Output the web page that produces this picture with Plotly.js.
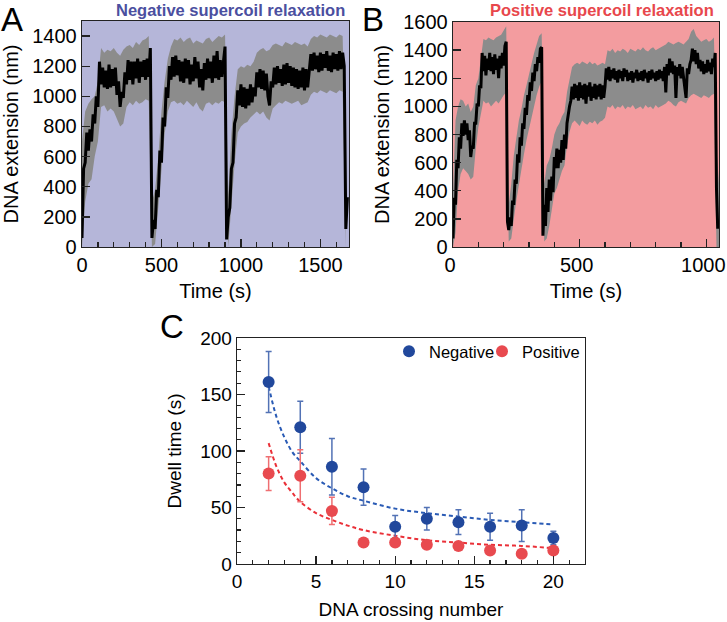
<!DOCTYPE html>
<html><head><meta charset="utf-8">
<script src="https://cdn.plot.ly/plotly-3.0.1.min.js"></script>
<style>html,body{margin:0;padding:0;background:#fff}#chart{width:727px;height:622px}</style>
</head><body><div id="chart"></div>
<script>
// ---------- Panel A: negative supercoil relaxation (time in s, extension in nm) ----------
const aBlackStarts = [0, 440, 910, 1660];   // segment start times, 10 s sampling
const aBlackStep = 10;
const aBlack1 = [60, 520, 560, 760, 640, 780, 700, 880, 820, 1000, 930, 1230, 1080, 1190, 1060, 1170, 1050, 1210, 1060, 1180, 1070, 1190, 1010, 1100, 930, 1030, 990, 1160, 1080, 1240, 1110, 1230, 1080, 1230, 1120, 1250, 1090, 1230, 1130, 1240, 1110, 1250, 1130, 1320];
const aBlack2 = [60, 180, 120, 380, 330, 640, 560, 860, 800, 1060, 990, 1200, 1110, 1260, 1130, 1270, 1140, 1240, 1100, 1230, 1090, 1250, 1120, 1240, 1080, 1210, 1100, 1260, 1120, 1230, 1060, 1180, 1040, 1220, 1110, 1250, 1120, 1230, 1090, 1270, 1120, 1300, 1110, 1240, 1130, 1250, 1330];
const aBlack3 = [50, 200, 260, 520, 560, 820, 860, 1040, 940, 1080, 930, 1060, 920, 1050, 940, 1080, 960, 1060, 1000, 1160, 1060, 1180, 1050, 1170, 1040, 1150, 1000, 940, 1100, 1060, 1190, 1080, 1200, 1090, 1180, 1070, 1210, 1080, 1220, 1090, 1200, 1070, 1190, 1060, 1180, 1050, 1170, 1060, 1190, 1040, 1180, 1060, 1170, 1280, 1170, 1290, 1180, 1270, 1160, 1290, 1170, 1280, 1190, 1300, 1170, 1270, 1160, 1290, 1180, 1280, 1170, 1300, 1180, 1290, 1200];
const aBlack4 = [120, 330];
const aGrayStart = 0, aGrayStep = 20;
const aGrayHi = [700, 900, 950, 980, 1000, 1100, 1320, 1290, 1310, 1300, 1320, 1290, 1270, 1310, 1330, 1340, 1320, 1360, 1340, 1370, 1380, 1400,
  300, 380, 600, 900, 1100, 1250, 1330, 1380, 1370, 1390, 1360, 1380, 1390, 1350, 1370, 1360, 1350, 1380, 1390, 1360, 1380, 1400, 1390, 1410,
  350, 750, 1000, 1180, 1200, 1190, 1210, 1200, 1230, 1290, 1310, 1320, 1300, 1310, 1340, 1350, 1340, 1330, 1360, 1350, 1340, 1360, 1350, 1340, 1350, 1330, 1380, 1400, 1390, 1410, 1400, 1390, 1410, 1400, 1390, 1410, 1400,
  480];
const aGrayLo = [0, 300, 420, 450, 600, 700, 930, 940, 900, 920, 900, 850, 800, 820, 930, 960, 940, 970, 950, 960, 980, 970,
  0, 20, 250, 500, 750, 900, 960, 970, 950, 960, 940, 970, 950, 930, 960, 920, 900, 950, 960, 940, 960, 950, 970, 960,
  0, 300, 550, 760, 800, 820, 830, 860, 880, 900, 880, 900, 860, 840, 920, 940, 960, 950, 970, 960, 950, 960, 970, 940, 950, 960, 1010, 1030, 1020, 1040, 1030, 1020, 1040, 1030, 1020, 1040, 1030,
  0];

// ---------- Panel B: positive supercoil relaxation ----------
const bBlackStarts = [0, 215, 355, 1040];   // 5 s sampling
const bBlackStep = 5;
const bBlack1 = [60, 350, 300, 620, 560, 780, 700, 880, 790, 900, 800, 880, 760, 830, 640, 720, 700, 880, 880, 1020, 1000, 1150, 1130, 1380, 1250, 1360, 1220, 1340, 1260, 1380, 1250, 1350, 1230, 1370, 1260, 1340, 1200, 1360, 1270, 1380, 1290, 1430, 1460];
const bBlack2 = [180, 120, 210, 150, 330, 300, 480, 450, 660, 600, 780, 720, 880, 840, 990, 940, 1080, 1040, 1170, 1110, 1240, 1180, 1300, 1250, 1350, 1310, 1410, 1420];
const bBlack3 = [80, 300, 150, 420, 250, 480, 330, 500, 390, 640, 560, 700, 560, 690, 600, 760, 620, 800, 700, 880, 960, 1000, 1040, 1140, 1050, 1160, 1060, 1150, 1040, 1170,
  1060, 1150, 1050, 1160, 1020, 1150, 1070, 1170, 1040, 1140, 1060, 1160, 1050, 1150, 1070, 1160, 1050, 1150, 1060, 1140,
  1270, 1190, 1280, 1180, 1260, 1200, 1270, 1190, 1250, 1170, 1260, 1200, 1250, 1180, 1270, 1210, 1260, 1180, 1240, 1190,
  1250, 1170, 1240, 1200, 1260, 1180, 1240, 1190, 1250, 1180, 1260, 1200, 1240, 1170, 1250, 1190, 1260, 1200, 1240, 1180,
  1250, 1190, 1260, 1200, 1250, 1180, 1280, 1100, 1300, 1220, 1340, 1240, 1320, 1230, 1290, 1060, 1280, 1220, 1300, 1200,
  1280, 1210, 1150, 1060, 1270, 1230, 1300, 1330, 1410, 1320, 1400, 1300, 1380, 1270, 1330, 1250, 1320, 1230, 1300, 1240,
  1330, 1250, 1310, 1230, 1340, 1280, 1380];
const bBlack4 = [420, 130];
const bGrayStarts = [0, 220, 360, 1040];    // 10 s sampling
const bGrayStep = 10;
const bGrayHi1 = [400, 900, 1000, 1050, 1040, 1000, 1020, 960, 1000, 1150, 1200, 1350, 1480, 1470, 1490, 1480, 1470, 1490, 1500, 1510, 1540, 1570];
const bGrayLo1 = [0, 100, 400, 520, 560, 540, 520, 480, 500, 700, 850, 950, 1040, 1020, 1030, 1000, 1020, 1040, 1020, 1050, 1080, 1100];
const bGrayHi2 = [300, 450, 650, 780, 900, 980, 1080, 1150, 1230, 1300, 1380, 1440, 1500, 1520];
const bGrayLo2 = [40, 60, 200, 330, 450, 560, 660, 760, 850, 930, 1000, 1080, 1140, 1180];
const bGrayHi3 = [450, 580, 620, 700, 800, 850, 880, 930, 960, 1100, 1200, 1280, 1300, 1310, 1300, 1320, 1310, 1300, 1320, 1300, 1310, 1290, 1300, 1310, 1300, 1400, 1390, 1410, 1380, 1400, 1390, 1410, 1400, 1380, 1410, 1400, 1390, 1410, 1400, 1420, 1400, 1390, 1410, 1420, 1400, 1410, 1420, 1430, 1440, 1460, 1450, 1440, 1450, 1460, 1450, 1440, 1460, 1480, 1530, 1550, 1500, 1480, 1460, 1470, 1480, 1460, 1470, 1490];
const bGrayLo3 = [40, 60, 150, 250, 380, 420, 480, 540, 580, 720, 820, 880, 900, 880, 860, 900, 880, 870, 890, 880, 900, 870, 890, 900, 920, 1000, 990, 1010, 980, 1000, 990, 1010, 980, 1000, 990, 1010, 980, 990, 1000, 980, 1010, 990, 1000, 980, 1010, 990, 1000, 1010, 1020, 1040, 1030, 1010, 1000, 1030, 1040, 1030, 1020, 1060, 1080, 1090, 1080, 1070, 1060, 1080, 1070, 1060, 1080, 1090];
const bGrayHi4 = [700, 450];
const bGrayLo4 = [0, 0];

// ---------- Panel C: dwell time vs DNA crossing number ----------
const crossing = [2, 4, 6, 8, 10, 12, 14, 16, 18, 20];
const negDwell = [161, 121, 86, 68, 33, 40, 37, 33, 34, 23];
const negErr   = [27, 23, 25, 16, 10, 10, 11, 12, 14, 6];
const posDwell = [80, 78, 47, 19, 19, 17, 16, 12, 9, 12];
const posErr   = [15, 23, 12, 2, 2, 2, 2, 2, 2, 2];
const fitX     = [2, 2.5, 3, 3.5, 4, 5, 6, 7, 8, 10, 12, 14, 16, 18, 20];
const negFit   = [157, 130, 112, 99, 91, 76, 67, 60, 56, 49, 45, 42, 39, 37, 35];
const posFit   = [107, 86, 72, 63, 55, 45, 39, 34, 30, 25, 21, 19, 17, 16, 14];

// ---------- helpers ----------
function seg(start, step, vals) { return vals.map((v, i) => start + i * step); }
function joinSegs(starts, step, list) {
  let x = [], y = [];
  list.forEach((vals, k) => { x = x.concat(seg(starts[k], step, vals)); y = y.concat(vals); });
  return {x, y};
}
function band(hi, lo) {
  return {x: hi.x.concat(lo.x.slice().reverse()), y: hi.y.concat(lo.y.slice().reverse())};
}

const aBlack = joinSegs(aBlackStarts, aBlackStep, [aBlack1, aBlack2, aBlack3, aBlack4]);
const aBand = band(joinSegs([aGrayStart], aGrayStep, [aGrayHi]), joinSegs([aGrayStart], aGrayStep, [aGrayLo]));
const bBlack = joinSegs(bBlackStarts, bBlackStep, [bBlack1, bBlack2, bBlack3, bBlack4]);
const bBand = band(joinSegs(bGrayStarts, bGrayStep, [bGrayHi1, bGrayHi2, bGrayHi3, bGrayHi4]),
                   joinSegs(bGrayStarts, bGrayStep, [bGrayLo1, bGrayLo2, bGrayLo3, bGrayLo4]));

const FONT = 'Liberation Sans, Arial, sans-serif';
const GRAY = '#8c8c8c';
const BLUE = '#21489c', RED = '#e84a4f';

const traces = [
  {x: aBand.x, y: aBand.y, xaxis: 'x', yaxis: 'y', mode: 'lines', fill: 'toself', fillcolor: GRAY, line: {width: 0, color: GRAY}, showlegend: false, hoverinfo: 'skip'},
  {x: aBlack.x, y: aBlack.y, xaxis: 'x', yaxis: 'y', mode: 'lines', line: {width: 3, color: '#000'}, showlegend: false},
  {x: bBand.x, y: bBand.y, xaxis: 'x2', yaxis: 'y2', mode: 'lines', fill: 'toself', fillcolor: GRAY, line: {width: 0, color: GRAY}, showlegend: false, hoverinfo: 'skip'},
  {x: bBlack.x, y: bBlack.y, xaxis: 'x2', yaxis: 'y2', mode: 'lines', line: {width: 3, color: '#000'}, showlegend: false},
  {x: fitX, y: negFit, xaxis: 'x3', yaxis: 'y3', mode: 'lines', line: {color: '#2a5bb5', width: 2, dash: '4px,3px', shape: 'spline'}, showlegend: false},
  {x: fitX, y: posFit, xaxis: 'x3', yaxis: 'y3', mode: 'lines', line: {color: '#ea3038', width: 2, dash: '4px,3px', shape: 'spline'}, showlegend: false},
  {x: crossing, y: negDwell, xaxis: 'x3', yaxis: 'y3', mode: 'markers', name: 'Negative', legend: 'legend',
   marker: {color: BLUE, size: 12}, error_y: {type: 'data', array: negErr, color: '#5272b5', thickness: 1.5, width: 3}},
  {x: crossing, y: posDwell, xaxis: 'x3', yaxis: 'y3', mode: 'markers', name: 'Positive', legend: 'legend2',
   marker: {color: RED, size: 12}, error_y: {type: 'data', array: posErr, color: '#ef6f72', thickness: 1.5, width: 3}}
];

function ax(extra) {
  return Object.assign({
    showline: true, mirror: true, linecolor: '#222', linewidth: 1.3,
    ticks: 'inside', ticklen: 8, tickwidth: 1.3, tickcolor: '#222',
    showgrid: false, zeroline: false, tick0: 0,
    tickfont: {family: FONT, size: 20, color: '#000'}
  }, extra);
}
const W = 727, H = 622;
const px = v => v / W, py = v => (H - v) / H;
function leg(left) {
  return {orientation: 'h', x: px(left), xanchor: 'left', y: py(334), yanchor: 'top',
          font: {family: FONT, size: 16.5, color: '#000'}, bgcolor: 'rgba(0,0,0,0)', itemwidth: 30};
}

const layout = {
  width: W, height: H,
  margin: {l: 0, r: 0, t: 0, b: 0},
  paper_bgcolor: '#fff', plot_bgcolor: 'rgba(0,0,0,0)',
  font: {family: FONT, color: '#000'},
  showlegend: true,
  legend: leg(389),
  legend2: leg(482),
  xaxis: ax({domain: [px(82), px(349)], range: [0, 1680], dtick: 500, anchor: 'y',
             minor: {dtick: 100, ticks: 'inside', ticklen: 5, tickwidth: 1.3, tickcolor: '#222'},
             title: {text: 'Time (s)', font: {family: FONT, size: 20}, standoff: 8}}),
  yaxis: ax({domain: [py(247), py(21)], range: [0, 1500], dtick: 200, anchor: 'x',
             title: {text: 'DNA extension (nm)', font: {family: FONT, size: 20}, standoff: 8}}),
  xaxis2: ax({domain: [px(453), px(719)], range: [0, 1050], dtick: 500, anchor: 'y2',
             ticklabelshift: -3, ticklabeloverflow: 'allow',
             minor: {dtick: 100, ticks: 'inside', ticklen: 5, tickwidth: 1.3, tickcolor: '#222'},
             title: {text: 'Time (s)', font: {family: FONT, size: 20}, standoff: 8}}),
  yaxis2: ax({domain: [py(247), py(22)], range: [0, 1600], dtick: 200, anchor: 'x2',
             title: {text: 'DNA extension (nm)', font: {family: FONT, size: 20}, standoff: 8}}),
  xaxis3: ax({domain: [px(237), px(585)], range: [0, 22], dtick: 5, anchor: 'y3',
             tickfont: {family: FONT, size: 19, color: '#000'},
             minor: {dtick: 1, ticks: 'inside', ticklen: 4, tickwidth: 1.2, tickcolor: '#222'},
             title: {text: 'DNA crossing number', font: {family: FONT, size: 19}, standoff: 11}}),
  yaxis3: ax({domain: [py(564), py(338)], range: [0, 200], dtick: 50, anchor: 'x3',
             tickfont: {family: FONT, size: 19, color: '#000'},
             minor: {dtick: 10, ticks: 'inside', ticklen: 4, tickwidth: 1.2, tickcolor: '#222'},
             title: {text: 'Dwell time (s)', font: {family: FONT, size: 19}, standoff: 13}}),
  shapes: [
    {type: 'rect', xref: 'x domain', yref: 'y domain', x0: 0, x1: 1, y0: 0, y1: 1, fillcolor: '#b5b6d9', line: {width: 0}, layer: 'below'},
    {type: 'rect', xref: 'x2 domain', yref: 'y2 domain', x0: 0, x1: 1, y0: 0, y1: 1, fillcolor: '#f39c9f', line: {width: 0}, layer: 'below'}
  ],
  annotations: [
    {text: '<b>Negative supercoil relaxation</b>', xref: 'paper', yref: 'paper', x: px(346), y: 1, xanchor: 'right', yanchor: 'top', borderpad: 0, showarrow: false,
     font: {family: FONT, size: 16.5, color: '#4b4fa0'}},
    {text: '<b>Positive supercoil relaxation</b>', xref: 'paper', yref: 'paper', x: px(715), y: 1, xanchor: 'right', yanchor: 'top', borderpad: 0, showarrow: false,
     font: {family: FONT, size: 16.5, color: '#e8474c'}},
    {text: 'A', xref: 'paper', yref: 'paper', x: px(0), y: 1, xanchor: 'left', yanchor: 'top', borderpad: 0, showarrow: false, font: {family: FONT, size: 33}},
    {text: 'B', xref: 'paper', yref: 'paper', x: px(361), y: 1, xanchor: 'left', yanchor: 'top', borderpad: 0, showarrow: false, font: {family: FONT, size: 33}},
    {text: 'C', xref: 'paper', yref: 'paper', x: px(158), y: py(326), xanchor: 'left', yanchor: 'middle', showarrow: false, font: {family: FONT, size: 33}}
  ]
};

Plotly.newPlot('chart', traces, layout, {displayModeBar: false, staticPlot: true});
</script></body></html>
